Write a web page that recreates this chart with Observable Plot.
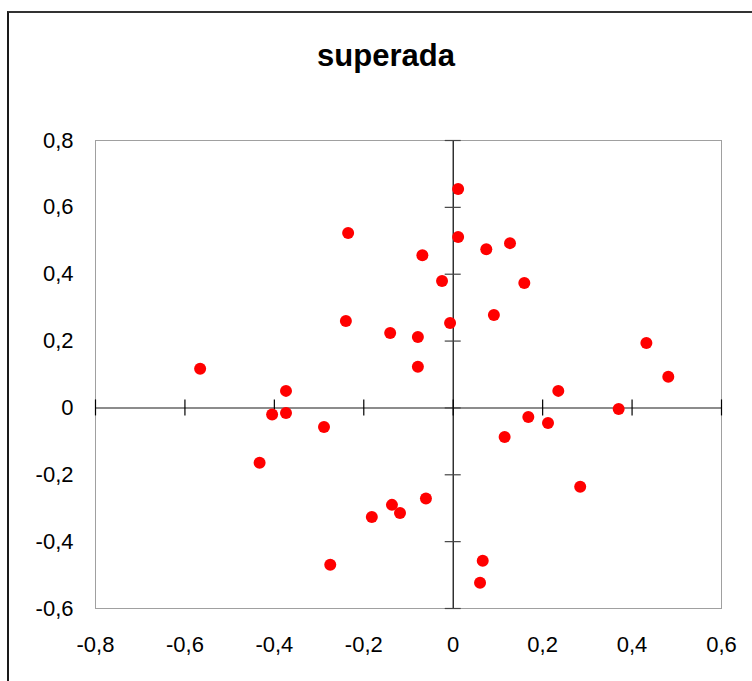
<!DOCTYPE html>
<html>
<head>
<meta charset="utf-8">
<script src="https://cdn.jsdelivr.net/npm/d3@7"></script>
<script src="https://cdn.jsdelivr.net/npm/@observablehq/plot@0.6"></script>
<style>
  html, body { margin: 0; padding: 0; background: #fff; overflow: hidden; }
  #wrap { position: relative; width: 752px; height: 681px; overflow: hidden; }
  #border { position: absolute; left: 7px; top: 11px; width: 900px; height: 900px;
            border-left: 2px solid #1a1a1a; border-top: 2px solid #333; box-sizing: border-box; }
  #title { position: absolute; left: 0; width: 772px; top: 40px; text-align: center;
           font-family: "Liberation Sans", Arial, sans-serif; font-weight: bold;
           font-size: 31px; line-height: 31px; color: #000; }
  #chart { position: absolute; left: 0; top: 0; }
  #chart svg text { font-size: 22px !important; font-family: "Liberation Sans", Arial, sans-serif !important; fill: #000; }
</style>
</head>
<body>
<div id="wrap">
  <div id="border"></div>
  <div id="chart"></div>
  <div id="title">superada</div>
</div>
<script>
// Data
const xs = [0.011, 0.011, -0.235, -0.069, 0.074, 0.127, -0.025, 0.159, -0.240, -0.141,
            -0.079, -0.007, 0.091, -0.079, -0.566, 0.432, 0.481, -0.374, -0.405, -0.374,
            -0.289, 0.235, 0.168, 0.212, 0.370, 0.115, -0.433, 0.284, -0.137, -0.061,
            -0.182, -0.119, -0.275, 0.066, 0.060];
const ys = [0.655, 0.511, 0.523, 0.457, 0.475, 0.493, 0.380, 0.374, 0.260, 0.224,
            0.212, 0.254, 0.278, 0.123, 0.117, 0.194, 0.093, 0.051, -0.020, -0.015,
            -0.057, 0.051, -0.027, -0.045, -0.003, -0.087, -0.164, -0.236, -0.290, -0.271,
            -0.326, -0.314, -0.469, -0.457, -0.523];
const xTicks = [-0.8, -0.6, -0.4, -0.2, 0, 0.2, 0.4, 0.6];
const xTickLabels = ["-0,8", "-0,6", "-0,4", "-0,2", "0", "0,2", "0,4", "0,6"];
const yTicks = [-0.6, -0.4, -0.2, 0, 0.2, 0.4, 0.6, 0.8];
const yTickLabels = ["-0,6", "-0,4", "-0,2", "0", "0,2", "0,4", "0,6", "0,8"];

const points = xs.map((x, i) => ({x, y: ys[i]}));
const fmtX = d => xTickLabels[xTicks.findIndex(t => Math.abs(t - d) < 1e-9)];
const fmtY = d => yTickLabels[yTicks.findIndex(t => Math.abs(t - d) < 1e-9)];

const font = "Liberation Sans, Arial, sans-serif";

const chart = Plot.plot({
  width: 752,
  height: 681,
  marginLeft: 95,
  marginRight: 31,
  marginTop: 140,
  marginBottom: 73,
  style: {fontFamily: font, fontSize: "22px", color: "#000", background: "transparent", overflow: "visible"},
  x: {domain: [-0.8, 0.6], axis: null},
  y: {domain: [-0.6, 0.8], axis: null},
  marks: [
    Plot.frame({stroke: "#a0a0a0", strokeWidth: 1}),
    Plot.ruleY([0], {stroke: "#666", strokeWidth: 1.5}),
    Plot.ruleX([0], {stroke: "#000", strokeWidth: 1.2}),
    Plot.ruleY(yTicks, {y: d => d, x1: 0, x2: 0, insetLeft: -8, insetRight: -8, stroke: "#444", strokeWidth: 1.2}),
    Plot.ruleX(xTicks, {x: d => d, y1: 0, y2: 0, insetTop: -8, insetBottom: -8, stroke: "#000", strokeWidth: 1.2}),
    Plot.axisX(xTicks, {tickSize: 0, tickPadding: 28, tickFormat: fmtX, label: null, fontSize: 22, fill: "#000"}),
    Plot.axisY(yTicks, {tickSize: 0, tickPadding: 22, tickFormat: fmtY, label: null, fontSize: 22, fill: "#000"}),
    Plot.dot(points, {x: "x", y: "y", r: 6, fill: "#ff0000", stroke: "none"})
  ]
});
document.getElementById("chart").appendChild(chart);
</script>
</body>
</html>
